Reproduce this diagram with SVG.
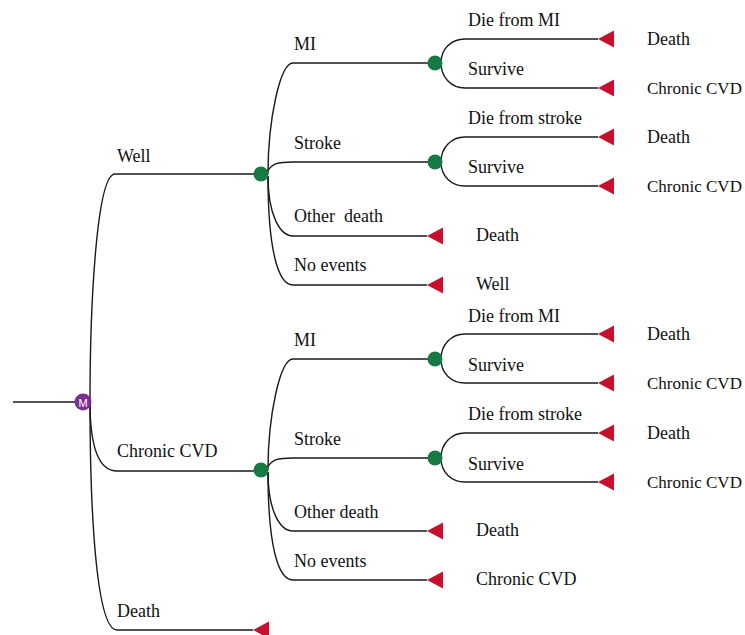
<svg xmlns="http://www.w3.org/2000/svg" width="745" height="635" viewBox="0 0 745 635">
<style>
text{font-family:"Liberation Serif","Times New Roman",serif;font-size:18px;fill:#111;white-space:pre}
text.r{font-size:17px}
.e{fill:none;stroke:#1a1a1a;stroke-width:1.4}
.c{fill:#177a45}
.t{fill:#c8102e}
</style>
<defs>
<polygon id="tri" points="0,0 16,-8.5 16,8.5"/>
</defs>
<rect width="745" height="635" fill="#fff"/>
<g id="connectors" class="e">
<path d="M13,402 H82"/>
<path d="M90,402 C90,300 97,174 115,174 H261"/>
<path d="M90,402 C90,440 96,471 117,471 H261"/>
<path d="M90,402 C90,520 97,630 117,630 H253"/>
<path d="M268,174 C268,120 280,63 293,63 H435"/>
<path d="M267,172 C272,163 278,162 293,162 H435"/>
<path d="M268,176 C268,215 280,236 293,236 H427"/>
<path d="M268,176 C268,250 278,285 293,285 H427"/>
<path d="M268,470 C268,416 280,359 293,359 H435"/>
<path d="M267,468 C272,459 278,458 293,458 H435"/>
<path d="M268,472 C268,511 280,531 293,531 H427"/>
<path d="M268,472 C268,546 278,580 293,580 H427"/>
<path d="M441,63 C441,49 451,39 465,39 H598 M441,63 C441,77 451,88 465,88 H598"/>
<path d="M441,162 C441,148 451,137 465,137 H598 M441,162 C441,176 451,186 465,186 H598"/>
<path d="M441,359 C441,345 451,334 465,334 H598 M441,359 C441,373 451,383 465,383 H598"/>
<path d="M441,458 C441,444 451,433 465,433 H598 M441,458 C441,472 451,482 465,482 H598"/>
</g>
<g id="node-markov">
<circle cx="83" cy="402" r="8.5" fill="#7e2d91"/>
<text x="83" y="406.5" text-anchor="middle" style="font-family:'Liberation Sans',Arial,sans-serif;font-size:11px;fill:#fff">M</text>
</g>
<g id="state-well">
<text x="117" y="162">Well</text>
<circle class="c" cx="261" cy="174" r="7.5"/>
</g>
<g id="state-cvd">
<text x="117" y="457">Chronic CVD</text>
<circle class="c" cx="261" cy="470" r="7.5"/>
</g>
<g id="state-death">
<text x="117" y="617">Death</text>
<use href="#tri" class="t" x="253" y="630"/>
</g>
<g id="well-mi">
<text x="294" y="50">MI</text>
<circle class="c" cx="435" cy="63" r="7.5"/>
<text x="468" y="26">Die from MI</text>
<use href="#tri" class="t" x="598" y="39"/>
<text x="647" y="45">Death</text>
<text x="468" y="75">Survive</text>
<use href="#tri" class="t" x="598" y="88"/>
<text class="r" x="647" y="94">Chronic CVD</text>
</g>
<g id="well-stroke">
<text x="294" y="149">Stroke</text>
<circle class="c" cx="435" cy="162" r="7.5"/>
<text x="468" y="124">Die from stroke</text>
<use href="#tri" class="t" x="598" y="137"/>
<text x="647" y="143">Death</text>
<text x="468" y="173">Survive</text>
<use href="#tri" class="t" x="598" y="186"/>
<text class="r" x="647" y="192">Chronic CVD</text>
</g>
<g id="well-other-death">
<text x="294" y="222">Other  death</text>
<use href="#tri" class="t" x="427" y="236"/>
<text x="476" y="241">Death</text>
</g>
<g id="well-no-events">
<text x="294" y="271">No events</text>
<use href="#tri" class="t" x="427" y="285"/>
<text x="476" y="290">Well</text>
</g>
<g id="cvd-mi">
<text x="294" y="346">MI</text>
<circle class="c" cx="435" cy="359" r="7.5"/>
<text x="468" y="322">Die from MI</text>
<use href="#tri" class="t" x="598" y="334"/>
<text x="647" y="340">Death</text>
<text x="468" y="371">Survive</text>
<use href="#tri" class="t" x="598" y="383"/>
<text class="r" x="647" y="389">Chronic CVD</text>
</g>
<g id="cvd-stroke">
<text x="294" y="445">Stroke</text>
<circle class="c" cx="435" cy="458" r="7.5"/>
<text x="468" y="420">Die from stroke</text>
<use href="#tri" class="t" x="598" y="433"/>
<text x="647" y="439">Death</text>
<text x="468" y="470">Survive</text>
<use href="#tri" class="t" x="598" y="482"/>
<text class="r" x="647" y="488">Chronic CVD</text>
</g>
<g id="cvd-other-death">
<text x="294" y="518">Other death</text>
<use href="#tri" class="t" x="427" y="531"/>
<text x="476" y="536">Death</text>
</g>
<g id="cvd-no-events">
<text x="294" y="567">No events</text>
<use href="#tri" class="t" x="427" y="580"/>
<text x="476" y="585">Chronic CVD</text>
</g>
</svg>
